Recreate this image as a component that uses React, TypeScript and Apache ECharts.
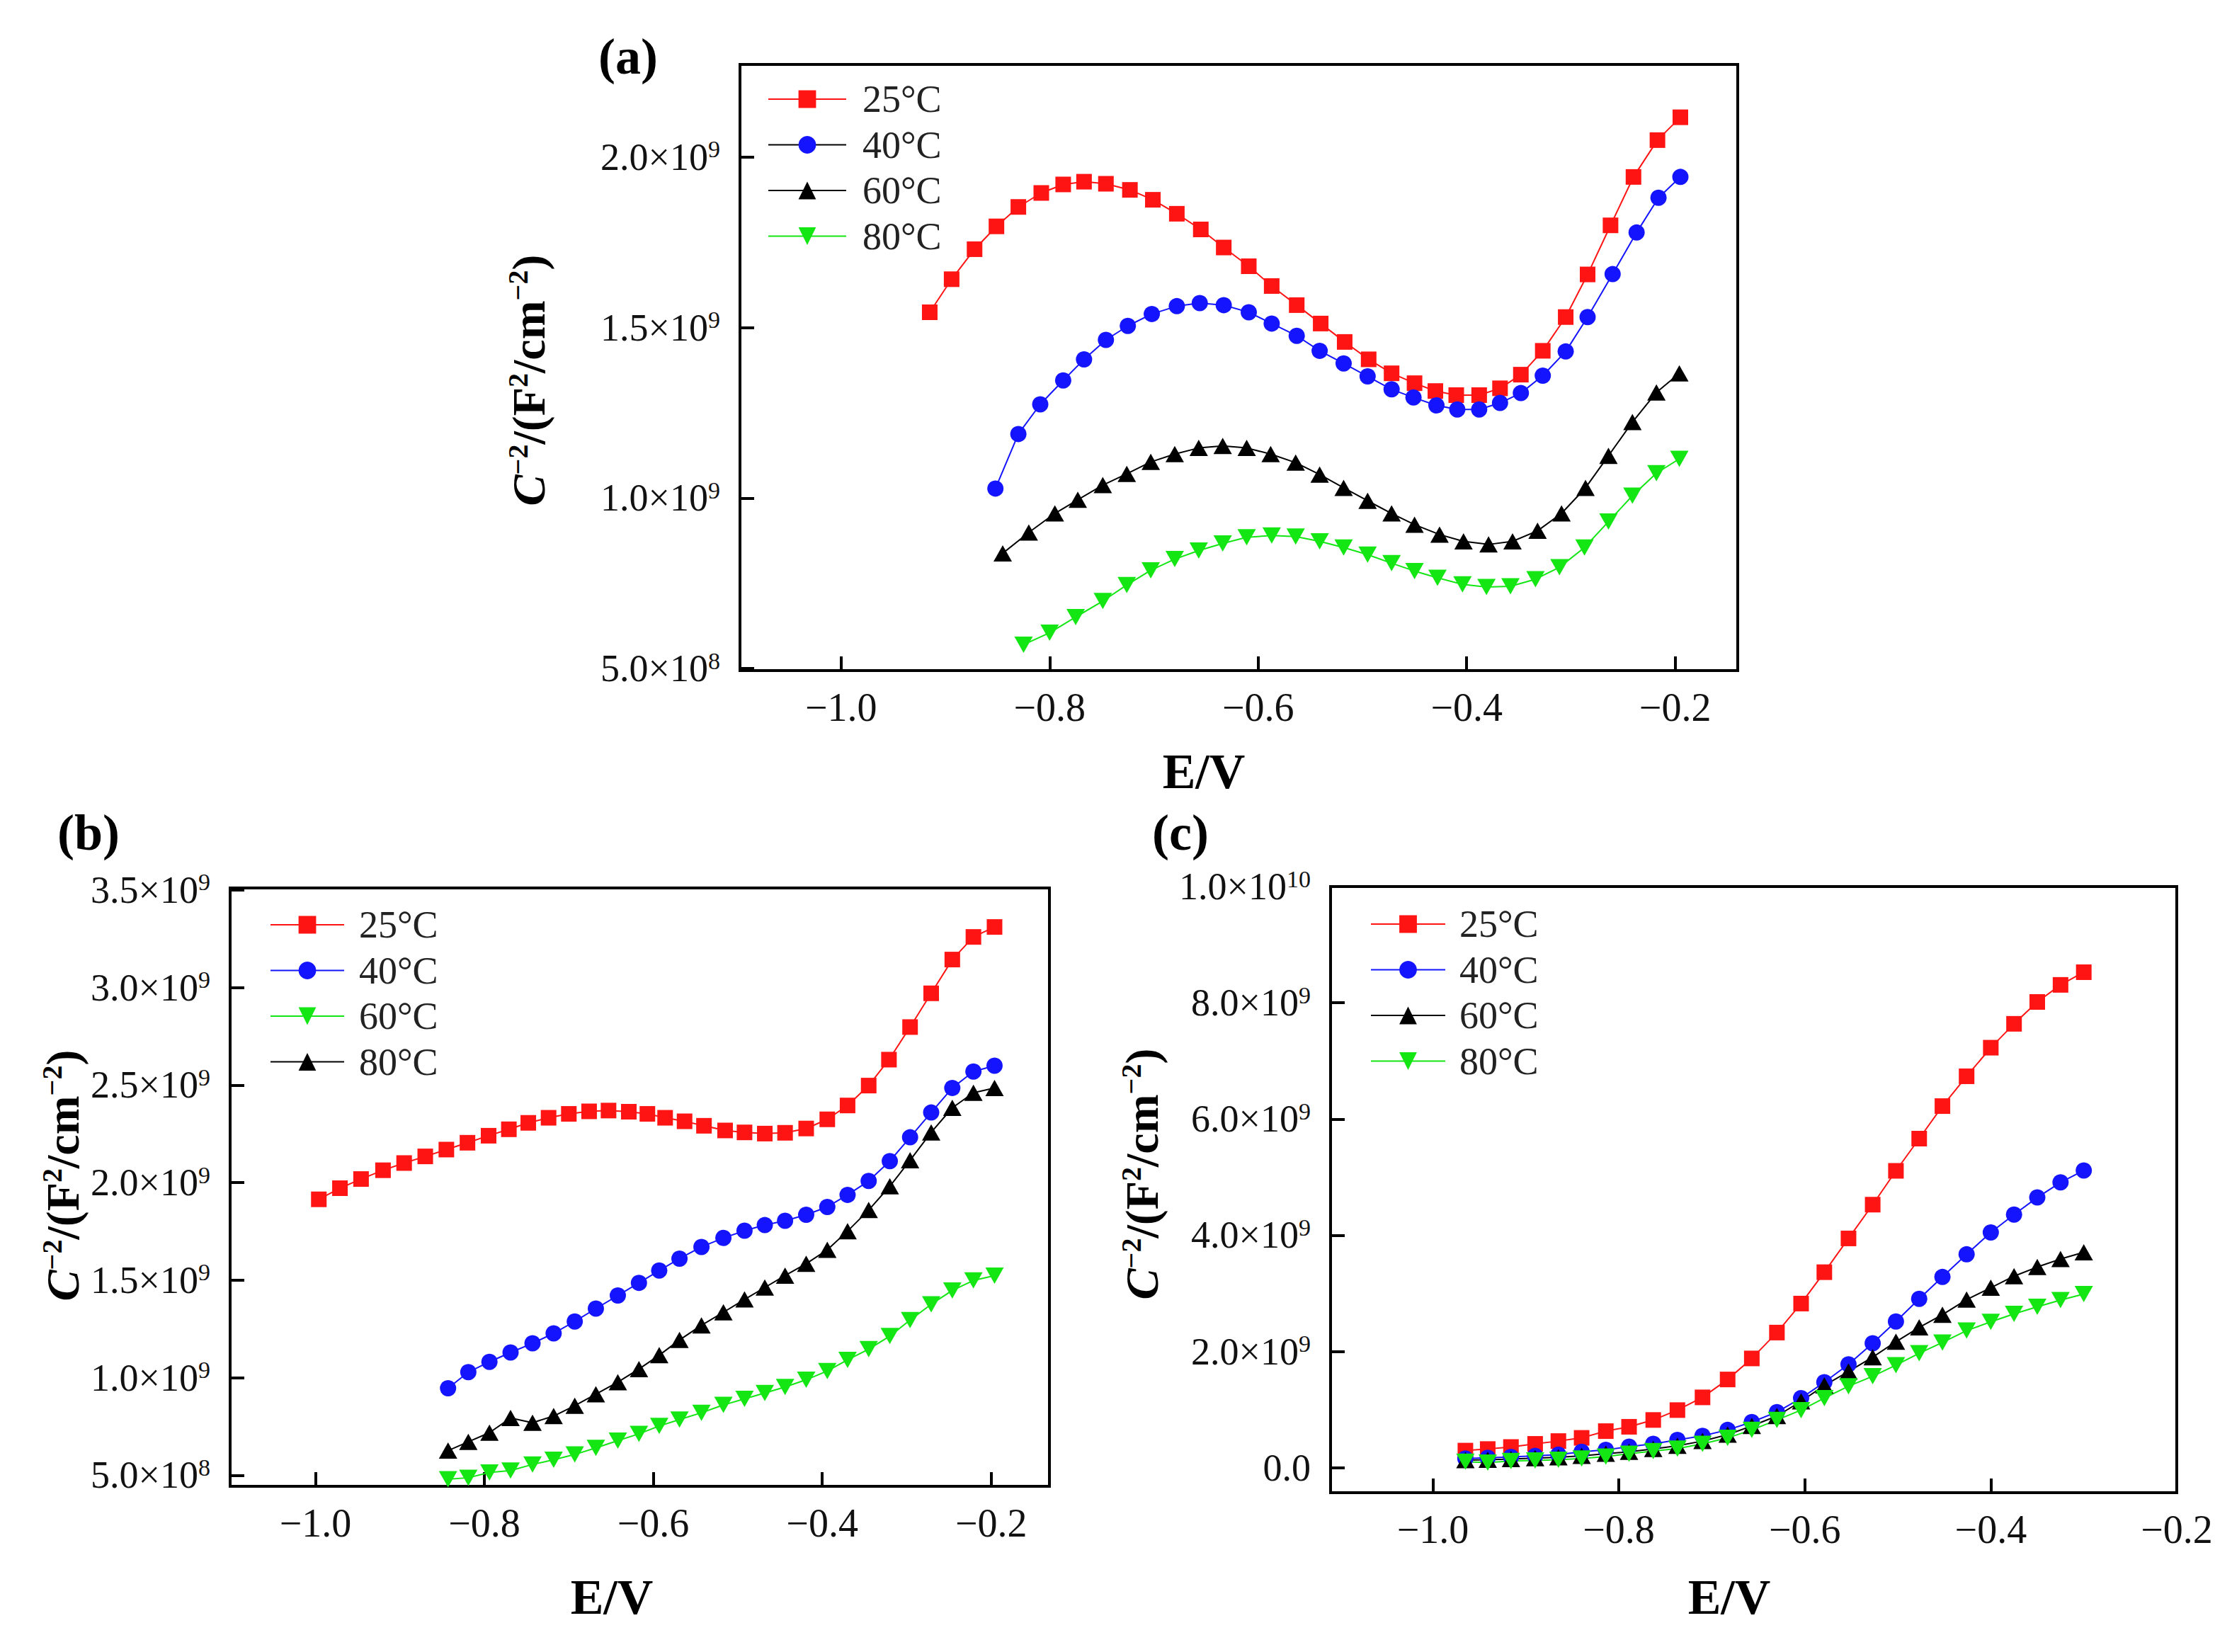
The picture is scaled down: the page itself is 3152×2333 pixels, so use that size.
import React, { useEffect, useRef } from "react";
import * as echarts from "echarts";

// ---------- Panel (a) ----------
const A_E25 = [-0.915,-0.894,-0.872,-0.851,-0.830,-0.808,-0.787,-0.767,-0.746,-0.723,-0.701,-0.678,-0.655,-0.633,-0.609,-0.587,-0.563,-0.540,-0.517,-0.494,-0.472,-0.450,-0.430,-0.410,-0.388,-0.368,-0.348,-0.327,-0.305,-0.284,-0.262,-0.240,-0.217,-0.195];
const A_C25 = [1.545,1.642,1.730,1.797,1.854,1.895,1.920,1.928,1.922,1.904,1.875,1.834,1.788,1.735,1.680,1.622,1.566,1.512,1.458,1.407,1.366,1.337,1.314,1.302,1.302,1.322,1.362,1.432,1.531,1.656,1.800,1.942,2.050,2.117];
const A_E40 = [-0.852,-0.830,-0.809,-0.787,-0.767,-0.746,-0.725,-0.702,-0.678,-0.656,-0.633,-0.609,-0.587,-0.563,-0.541,-0.518,-0.495,-0.472,-0.451,-0.429,-0.409,-0.388,-0.368,-0.348,-0.327,-0.305,-0.284,-0.260,-0.237,-0.216,-0.195];
const A_C40 = [1.028,1.188,1.275,1.345,1.407,1.464,1.505,1.540,1.563,1.572,1.566,1.545,1.512,1.476,1.432,1.395,1.357,1.319,1.295,1.272,1.260,1.260,1.279,1.308,1.359,1.430,1.531,1.657,1.779,1.881,1.942];
const A_E60 = [-0.845,-0.820,-0.795,-0.773,-0.749,-0.726,-0.703,-0.680,-0.657,-0.634,-0.611,-0.588,-0.564,-0.541,-0.518,-0.495,-0.472,-0.450,-0.426,-0.403,-0.379,-0.356,-0.332,-0.309,-0.286,-0.264,-0.241,-0.218,-0.196];
const A_C60 = [0.838,0.899,0.955,0.995,1.038,1.071,1.106,1.129,1.147,1.153,1.147,1.129,1.104,1.069,1.030,0.992,0.955,0.922,0.893,0.873,0.864,0.873,0.904,0.955,1.030,1.124,1.223,1.310,1.366];
const A_E80 = [-0.825,-0.800,-0.775,-0.749,-0.726,-0.703,-0.680,-0.657,-0.634,-0.611,-0.587,-0.564,-0.541,-0.518,-0.495,-0.472,-0.450,-0.428,-0.404,-0.381,-0.358,-0.334,-0.311,-0.287,-0.264,-0.241,-0.218,-0.196];
const A_C80 = [0.570,0.605,0.651,0.698,0.745,0.788,0.821,0.846,0.867,0.885,0.890,0.887,0.873,0.855,0.834,0.809,0.786,0.766,0.747,0.739,0.741,0.762,0.797,0.855,0.931,1.007,1.073,1.115];

// ---------- Panel (b) ----------
const B_E25 = [-0.996,-0.971,-0.946,-0.920,-0.895,-0.870,-0.845,-0.820,-0.795,-0.771,-0.748,-0.724,-0.700,-0.676,-0.653,-0.629,-0.607,-0.586,-0.563,-0.540,-0.515,-0.492,-0.468,-0.444,-0.419,-0.394,-0.370,-0.345,-0.321,-0.296,-0.271,-0.246,-0.221,-0.196];
const B_C25 = [1.914,1.971,2.018,2.063,2.100,2.134,2.169,2.204,2.240,2.273,2.306,2.332,2.352,2.365,2.369,2.363,2.352,2.332,2.314,2.291,2.267,2.257,2.251,2.255,2.277,2.324,2.395,2.497,2.630,2.797,2.970,3.143,3.259,3.310];
const B_E = [-0.843,-0.819,-0.794,-0.769,-0.743,-0.718,-0.693,-0.668,-0.642,-0.617,-0.593,-0.569,-0.543,-0.517,-0.492,-0.468,-0.444,-0.419,-0.394,-0.370,-0.345,-0.320,-0.296,-0.271,-0.246,-0.221,-0.196];
const B_C40 = [0.946,1.028,1.081,1.129,1.176,1.227,1.288,1.354,1.421,1.486,1.549,1.610,1.670,1.716,1.753,1.782,1.804,1.835,1.875,1.937,2.008,2.110,2.232,2.359,2.485,2.569,2.599];
const B_C60 = [0.479,0.487,0.514,0.524,0.555,0.579,0.606,0.640,0.677,0.712,0.752,0.785,0.820,0.860,0.891,0.921,0.952,0.989,1.034,1.091,1.146,1.213,1.295,1.376,1.447,1.498,1.523];
const B_C80 = [0.626,0.671,0.718,0.793,0.769,0.803,0.856,0.915,0.977,1.044,1.115,1.193,1.268,1.335,1.401,1.462,1.523,1.584,1.655,1.751,1.859,1.981,2.114,2.257,2.383,2.460,2.485];

// ---------- Panel (c) ----------
const C_E = [-0.965,-0.941,-0.916,-0.890,-0.865,-0.840,-0.814,-0.789,-0.763,-0.737,-0.710,-0.683,-0.657,-0.630,-0.604,-0.579,-0.553,-0.527,-0.502,-0.477,-0.452,-0.426,-0.400,-0.375,-0.350,-0.325,-0.300];
const C_C25 = [0.294,0.321,0.356,0.410,0.458,0.513,0.629,0.704,0.821,0.991,1.210,1.518,1.880,2.325,2.824,3.364,3.945,4.526,5.108,5.662,6.222,6.735,7.227,7.638,8.014,8.308,8.526];
const C_C40 = [0.157,0.171,0.185,0.205,0.226,0.274,0.308,0.362,0.410,0.479,0.547,0.650,0.786,0.957,1.197,1.470,1.778,2.140,2.516,2.906,3.282,3.672,4.048,4.356,4.650,4.909,5.115];
const C_C60 = [0.130,0.137,0.150,0.164,0.178,0.205,0.239,0.274,0.321,0.376,0.458,0.568,0.718,0.889,1.142,1.415,1.655,1.901,2.168,2.414,2.632,2.892,3.097,3.296,3.453,3.590,3.706];
const C_C80 = [0.103,0.089,0.116,0.123,0.137,0.157,0.191,0.239,0.287,0.328,0.410,0.513,0.650,0.821,0.991,1.197,1.402,1.573,1.764,1.969,2.154,2.359,2.509,2.646,2.769,2.885,2.988];

// tick values (y in units of 1e9)
const X_TICKS = [-1.0, -0.8, -0.6, -0.4, -0.2];
const A_Y_TICKS = [0.5, 1.0, 1.5, 2.0];
const B_Y_TICKS = [0.5, 1.0, 1.5, 2.0, 2.5, 3.0, 3.5];
const C_Y_TICKS = [0, 2, 4, 6, 8, 10];
const TEMPS = ["25°C", "40°C", "60°C", "80°C"];

const FONT = "Liberation Serif";
const RED = "#ff1414";
const BLUE = "#1414ff";
const BLACK = "#000000";
const GREEN = "#14e614";

type Mark = { color: string; symbol: string; size: any; rotate: number };
const SQ: Mark = { color: RED, symbol: "rect", size: 22, rotate: 0 };
const CI: Mark = { color: BLUE, symbol: "circle", size: 23, rotate: 0 };
const UP: Mark = { color: BLACK, symbol: "triangle", size: [26, 23], rotate: 0 };
const DN: Mark = { color: GREEN, symbol: "triangle", size: [26, 23], rotate: 180 };

const pair = (xs: number[], ys: number[]) => xs.map((x, i) => [x, ys[i]]);

function series(name: string, idx: number, xs: number[], ys: number[], m: Mark) {
  return {
    type: "line",
    name,
    xAxisIndex: idx,
    yAxisIndex: idx,
    data: pair(xs, ys),
    symbol: m.symbol,
    symbolSize: m.size,
    symbolRotate: m.rotate,
    showSymbol: true,
    lineStyle: { color: m.color, width: 2 },
    itemStyle: { color: m.color, borderWidth: 0 },
    emphasis: { disabled: true },
    z: 3,
  };
}

const xFmt = (v: number) => (v < 0 ? "\u2212" : "") + Math.abs(v).toFixed(1);
const yFmt = (v: number) => {
  const real = v * 1e9;
  if (Math.abs(real) < 1) return "{m|0.0}";
  const exp = Math.floor(Math.log10(real) + 1e-9);
  const mant = real / Math.pow(10, exp);
  return `{m|${mant.toFixed(1)}×10}{e|${exp}}`;
};

function xAxis(idx: number, min: number, max: number) {
  return {
    type: "value",
    gridIndex: idx,
    min,
    max,
    axisLine: { show: true, onZero: false, lineStyle: { color: "#000", width: 4 } },
    axisTick: { show: true, inside: true, length: 20, customValues: X_TICKS, lineStyle: { color: "#000", width: 4 } },
    axisLabel: { customValues: X_TICKS, formatter: xFmt, fontFamily: FONT, fontSize: 56, color: "#111", margin: 24 },
    splitLine: { show: false },
  };
}

function yAxis(idx: number, min: number, max: number, ticks: number[]) {
  return {
    type: "value",
    gridIndex: idx,
    min,
    max,
    axisLine: { show: true, onZero: false, lineStyle: { color: "#000", width: 4 } },
    axisTick: { show: true, inside: true, length: 20, customValues: ticks, lineStyle: { color: "#000", width: 4 } },
    axisLabel: {
      customValues: ticks,
      formatter: yFmt,
      margin: 28,
      color: "#111",
      rich: {
        m: { fontFamily: FONT, fontSize: 54, lineHeight: 56, color: "#111" },
        e: { fontFamily: FONT, fontSize: 34, lineHeight: 30, verticalAlign: "top", color: "#111" },
      },
    },
    splitLine: { show: false },
  };
}

function legend(prefix: string, left: number, top: number, w: number, pad: number, lineColors?: Record<string, string>) {
  return {
    orient: "vertical",
    left,
    top,
    padding: 0,
    itemWidth: w,
    itemHeight: 31,
    itemGap: 8.5,
    selectedMode: false,
    data: TEMPS.map((t) => {
      const n = prefix + t;
      const d: any = { name: n };
      if (lineColors && lineColors[t]) d.lineStyle = { color: lineColors[t] };
      return d;
    }),
    formatter: (n: string) => n.slice(prefix.length),
    textStyle: { fontFamily: FONT, fontSize: 54, color: "#222", lineHeight: 56, padding: [0, 0, 0, pad] },
  };
}

const titleRich = {
  ci: { fontFamily: FONT, fontSize: 66, fontWeight: "bold", fontStyle: "italic", lineHeight: 70, color: "#000" },
  b: { fontFamily: FONT, fontSize: 66, fontWeight: "bold", lineHeight: 70, color: "#000" },
  s: { fontFamily: FONT, fontSize: 40, fontWeight: "bold", lineHeight: 40, verticalAlign: "top", color: "#000" },
};
const Y_TITLE = "{ci|C}{s|\u22122}{b|/(F}{s|2}{b|/cm}{s|\u22122}{b|)}";

function yTitle(x: number, y: number) {
  return {
    type: "text",
    x,
    y,
    rotation: Math.PI / 2,
    style: { text: Y_TITLE, rich: titleRich, align: "center", verticalAlign: "middle" },
  };
}
function plainText(x: number, y: number, text: string, size: number) {
  return {
    type: "text",
    x,
    y,
    style: { text, fontFamily: FONT, fontSize: size, fontWeight: "bold", fill: "#000", align: "center", verticalAlign: "middle" },
  };
}

export default function App() {
  const ref = useRef<HTMLDivElement>(null);
  useEffect(() => {
    if (!ref.current) return;
    const chart = echarts.init(ref.current, undefined, { renderer: "svg" });
    const gridBase = { show: true, borderColor: "#000", borderWidth: 4, backgroundColor: "transparent" };
    const option: any = {
      animation: false,
      backgroundColor: "#ffffff",
      grid: [
        { ...gridBase, left: 1045, top: 91, width: 1409, height: 856 },
        { ...gridBase, left: 325, top: 1254, width: 1157, height: 845 },
        { ...gridBase, left: 1879, top: 1252, width: 1195, height: 856 },
      ],
      xAxis: [xAxis(0, -1.097, -0.14), xAxis(1, -1.101, -0.131), xAxis(2, -1.11, -0.2)],
      yAxis: [yAxis(0, 0.494, 2.272, A_Y_TICKS), yAxis(1, 0.443, 3.51, B_Y_TICKS), yAxis(2, -0.43, 10, C_Y_TICKS)],
      legend: [
        legend("a:", 1084, 112, 110, 18, { "40°C": "#000000" }),
        legend("b:", 381, 1278, 104, 16),
        legend("c:", 1935, 1277, 105, 15),
      ],
      series: [
        series("a:25°C", 0, A_E25, A_C25, SQ),
        series("a:40°C", 0, A_E40, A_C40, CI),
        series("a:60°C", 0, A_E60, A_C60, UP),
        series("a:80°C", 0, A_E80, A_C80, DN),
        series("b:25°C", 1, B_E25, B_C25, SQ),
        series("b:40°C", 1, B_E, B_C40, CI),
        series("b:60°C", 1, B_E, B_C60, DN),
        series("b:80°C", 1, B_E, B_C80, UP),
        series("c:25°C", 2, C_E, C_C25, SQ),
        series("c:40°C", 2, C_E, C_C40, CI),
        series("c:60°C", 2, C_E, C_C60, UP),
        series("c:80°C", 2, C_E, C_C80, DN),
      ],
      graphic: [
        plainText(887, 80, "(a)", 72),
        plainText(125, 1176, "(b)", 72),
        plainText(1667, 1176, "(c)", 72),
        yTitle(746, 537),
        yTitle(88, 1660),
        yTitle(1612, 1658),
        plainText(1700, 1089, "E/V", 70),
        plainText(864, 2255, "E/V", 70),
        plainText(2442, 2255, "E/V", 70),
      ],
    };
    chart.setOption(option);
    return () => chart.dispose();
  }, []);
  return (
    <div
      ref={ref}
      style={{ position: "fixed", left: 0, top: 0, width: 3152, height: 2333, background: "#fff" }}
    />
  );
}
